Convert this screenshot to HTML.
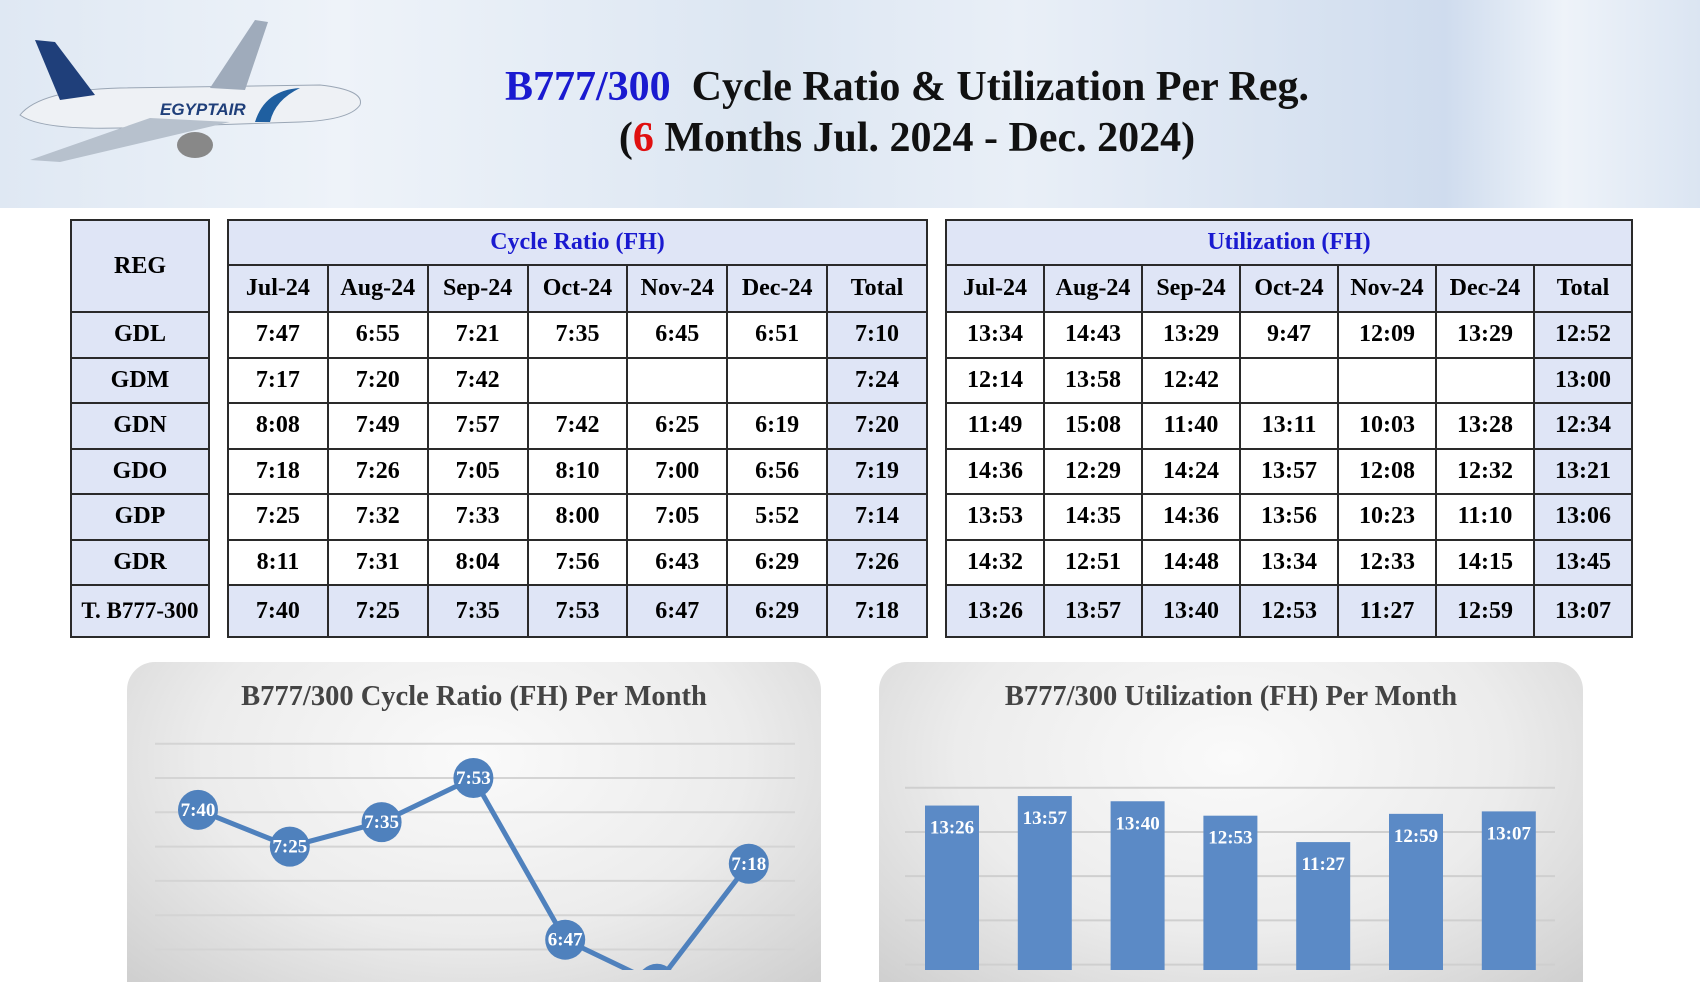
<!DOCTYPE html>
<html><head><meta charset="utf-8"><style>
body{margin:0;width:1700px;height:970px;overflow:hidden;background:#fff;font-family:"Liberation Serif",serif;position:relative}
.hdr{position:absolute;left:0;top:0;width:1700px;height:208px;background:linear-gradient(90deg,#dfe8f3 0%,#eef3f9 20%,#dce6f2 45%,#e9eff7 60%,#cfdcee 85%,#eef3f9 92%,#dbe5f2 100%)}
.title{position:absolute;left:0;width:1814px;text-align:center;font-weight:bold;font-size:42px;color:#111}
table{position:absolute;border-collapse:collapse;font-weight:bold;font-size:24px;text-align:center;table-layout:fixed}
td{border:2px solid #2a2a2a;padding:0}
.h{background:#dfe5f6}
.b{color:#1a1ad0}
.panel{position:absolute;top:662px;height:320px;border-radius:28px 28px 0 0;background:radial-gradient(ellipse at 50% 30%,#fafafa 0%,#ececec 55%,#cfcfcf 100%)}
.ct{position:absolute;width:100%;top:19px;text-align:center;font-weight:bold;font-size:28.5px;color:#444}
</style></head><body>
<div class="hdr"></div>
<svg style="position:absolute;left:0;top:10px" width="380" height="180">
<path d="M20 105 Q40 80 120 78 L320 75 Q365 80 360 95 Q350 110 300 112 L120 118 Q40 120 20 105Z" fill="#eef1f5" stroke="#9aa6b5"/>
<path d="M150 108 L30 150 L60 152 L230 112Z" fill="#b7c1cd"/>
<path d="M210 78 L255 10 L268 12 L245 80Z" fill="#9fabbb"/>
<path d="M60 90 L35 30 L55 32 L95 85Z" fill="#1f3f7a"/>
<ellipse cx="195" cy="135" rx="18" ry="13" fill="#888"/>
<text x="160" y="105" font-family="Liberation Sans" font-style="italic" font-weight="bold" font-size="17" fill="#1f3f7a">EGYPTAIR</text>
<path d="M255 112 Q265 80 300 78 Q275 90 270 112Z" fill="#1f5fa0"/>
</svg>
<div class="title" style="top:63px"><span class="b">B777/300</span>&nbsp; Cycle Ratio &amp; Utilization Per Reg.</div>
<div class="title" style="top:114px">(<span style="color:#e01010">6</span> Months Jul. 2024 - Dec. 2024)</div>

<table style="left:70px;top:219px;width:140px">
<tr style="height:92px"><td class="h">REG</td></tr>
<tr style="height:45.5px"><td class="h">GDL</td></tr><tr style="height:45.5px"><td class="h">GDM</td></tr><tr style="height:45.5px"><td class="h">GDN</td></tr><tr style="height:45.5px"><td class="h">GDO</td></tr><tr style="height:45.5px"><td class="h">GDP</td></tr><tr style="height:45.5px"><td class="h">GDR</td></tr><tr style="height:52px"><td class="h" style="font-size:23px">T. B777-300</td></tr>
</table>
<div id="tables"></div>

<div class="panel" style="left:127px;width:694px"><div class="ct">B777/300 Cycle Ratio (FH) Per Month</div></div>
<div class="panel" style="left:879px;width:704px"><div class="ct">B777/300 Utilization (FH) Per Month</div></div>
<svg id="charts" style="position:absolute;left:0;top:0" width="1700" height="970"></svg>
<script>
const months=["Jul-24","Aug-24","Sep-24","Oct-24","Nov-24","Dec-24","Total"];
const regs=["GDL","GDM","GDN","GDO","GDP","GDR","T. B777-300"];
const cycleRows=[["7:47","6:55","7:21","7:35","6:45","6:51","7:10"],["7:17","7:20","7:42","","","","7:24"],["8:08","7:49","7:57","7:42","6:25","6:19","7:20"],["7:18","7:26","7:05","8:10","7:00","6:56","7:19"],["7:25","7:32","7:33","8:00","7:05","5:52","7:14"],["8:11","7:31","8:04","7:56","6:43","6:29","7:26"],["7:40","7:25","7:35","7:53","6:47","6:29","7:18"]];
const utilRows=[["13:34","14:43","13:29","9:47","12:09","13:29","12:52"],["12:14","13:58","12:42","","","","13:00"],["11:49","15:08","11:40","13:11","10:03","13:28","12:34"],["14:36","12:29","14:24","13:57","12:08","12:32","13:21"],["13:53","14:35","14:36","13:56","10:23","11:10","13:06"],["14:32","12:51","14:48","13:34","12:33","14:15","13:45"],["13:26","13:57","13:40","12:53","11:27","12:59","13:07"]];
const cycleSeries=["7:40","7:25","7:35","7:53","6:47","6:29","7:18"];
const utilSeries=["13:26","13:57","13:40","12:53","11:27","12:59","13:07"];
const cycleTicks=[487,473,459,445,431,417,403];
const utilTicks=[864,720,576,432,288];
function mins(s){const p=s.split(':');return +p[0]*60+ +p[1];}
function buildTable(left,width,title,rows,name){
  const t=document.createElement('table');
  
  
  t.style.left=left+'px';t.style.top='219px';t.style.width=width+'px';
  let h='<tr style="height:45px"><td class="h b" colspan="7">'+title+'</td></tr><tr style="height:47px">';
  months.forEach(m=>h+='<td class="h">'+(m==='Total'?'Total':m)+'</td>');
  h+='</tr>';
  rows.forEach((r,i)=>{h+='<tr style="height:'+(i==6?52:45.5)+'px">';r.forEach((v,j)=>h+='<td class="'+(j==6||i==6?'h':'')+'">'+v+'</td>');h+='</tr>';});
  t.innerHTML=h;document.getElementById('tables').appendChild(t);
}
buildTable(227,701,'Cycle Ratio (FH)',cycleRows,'cycle-ratio-table');
buildTable(945,688,'Utilization (FH)',utilRows,'utilization-table');
const svg=document.getElementById('charts');const NS='http://www.w3.org/2000/svg';
function el(tag,a,p){const e=document.createElementNS(NS,tag);for(const k in a)e.setAttribute(k,a[k]);(p||svg).appendChild(e);return e;}
const cy=m=>778+(473-m)*2.45, cx=i=>198+i*91.8;
cycleTicks.forEach(t=>{const g=el('line',{x1:155,x2:795,y1:cy(t),y2:cy(t),stroke:'#d4d4d4','stroke-width':2});});
const pts=cycleSeries.map((v,i)=>cx(i)+','+cy(mins(v))).join(' ');
const pl=el('polyline',{points:pts,fill:'none',stroke:'#4f81bd','stroke-width':5});


cycleSeries.forEach((v,i)=>{const c=el('circle',{cx:cx(i),cy:cy(mins(v)),r:20,fill:'#4f81bd'});


const t=el('text',{x:cx(i),y:cy(mins(v))+6,'text-anchor':'middle',fill:'#fff','font-weight':'bold','font-size':19,'font-family':'Liberation Serif'});t.textContent=v;

});
const by=m=>1053-m*0.307, bx=i=>952+i*92.8;
utilTicks.forEach(t=>{const g=el('line',{x1:905,x2:1555,y1:by(t),y2:by(t),stroke:'#cfcfcf','stroke-width':2});});
utilSeries.forEach((v,i)=>{const y=by(mins(v));const r=el('rect',{x:bx(i)-27,y:y,width:54,height:980-y,fill:'#5b8ac6'});


const t=el('text',{x:bx(i),y:y+28,'text-anchor':'middle',fill:'#fff','font-weight':'bold','font-size':19,'font-family':'Liberation Serif'});t.textContent=v;

});
</script>
</body></html>
